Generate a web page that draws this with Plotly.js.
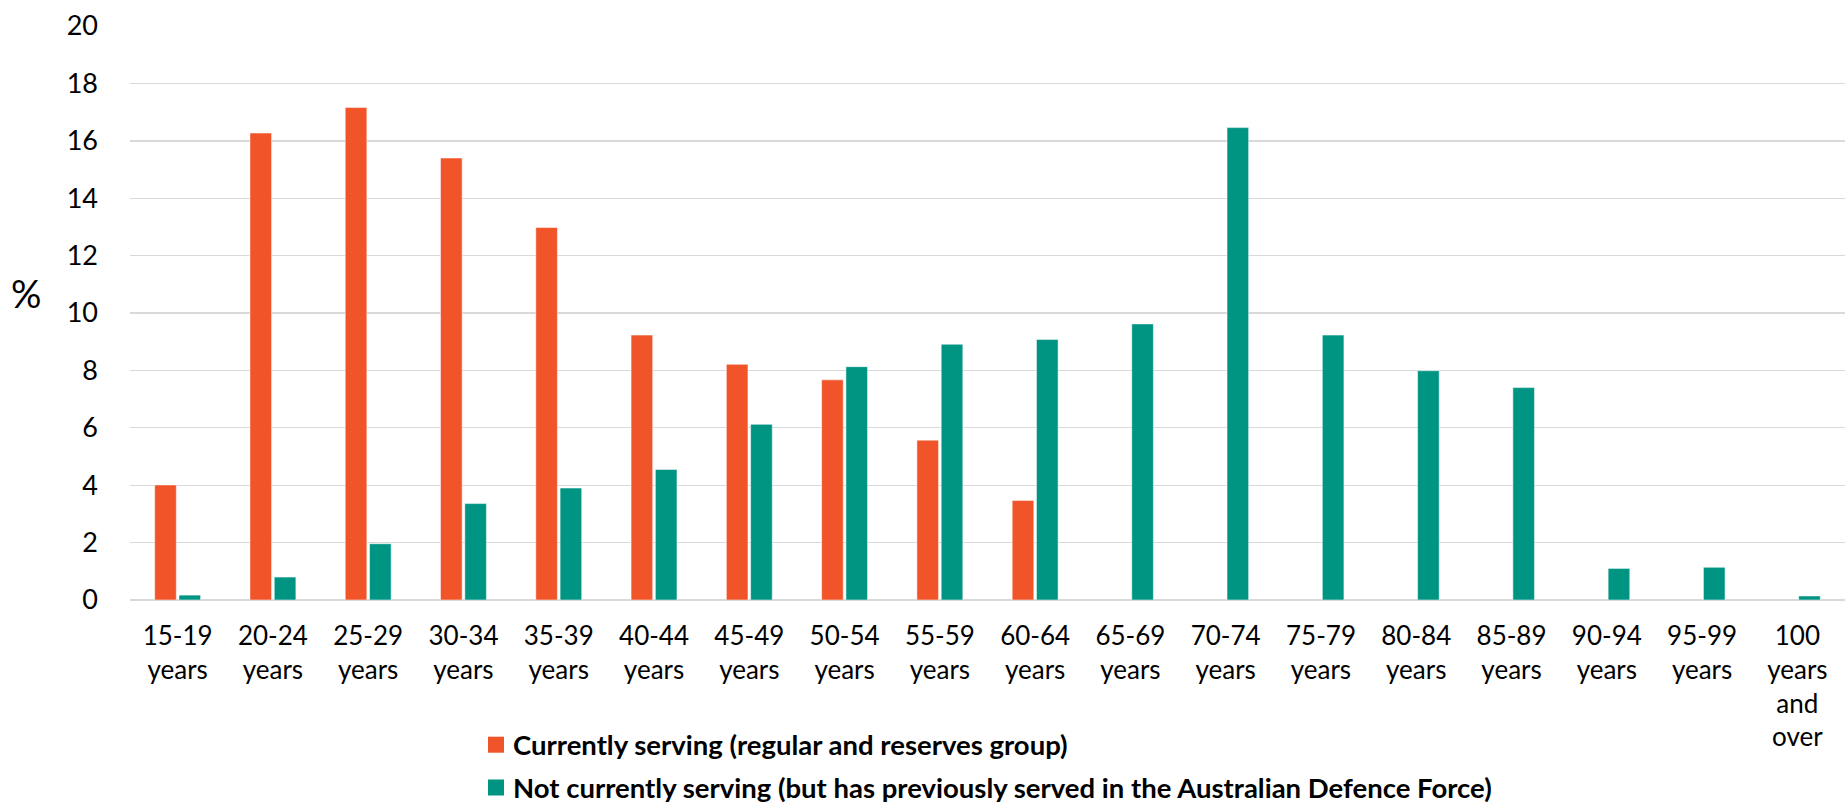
<!DOCTYPE html>
<html>
<head>
<meta charset="utf-8">
<script src="https://cdn.plot.ly/plotly-3.0.1.min.js"></script>
<style>
html,body{margin:0;padding:0;background:#fff;}
#chart{width:1845px;height:806px;}
</style>
</head>
<body>
<div id="chart"></div>
<script>
const categories = ["15-19<br>years","20-24<br>years","25-29<br>years","30-34<br>years","35-39<br>years","40-44<br>years","45-49<br>years","50-54<br>years","55-59<br>years","60-64<br>years","65-69<br>years","70-74<br>years","75-79<br>years","80-84<br>years","85-89<br>years","90-94<br>years","95-99<br>years","100<br>years<br>and<br>over"];
const currentlyServing = [4.01, 16.27, 17.16, 15.40, 12.98, 9.23, 8.21, 7.67, 5.57, 3.47, null, null, null, null, null, null, null, null];
const notCurrentlyServing = [0.17, 0.80, 1.96, 3.36, 3.90, 4.55, 6.12, 8.13, 8.91, 9.08, 9.62, 16.46, 9.23, 7.99, 7.40, 1.10, 1.14, 0.14];
const seriesNames = ["Currently serving (regular and reserves group)", "Not currently serving (but has previously served in the Australian Defence Force)"];
const seriesColors = ['#F05428', '#009582'];
const yTicks = [0,2,4,6,8,10,12,14,16,18,20];

const traces = [
  {type:'bar', x:categories, y:currentlyServing, name:seriesNames[0],
   marker:{color:seriesColors[0], line:{color:'rgba(255,255,255,0.5)', width:1}}, hoverinfo:'y'},
  {type:'bar', x:categories, y:notCurrentlyServing, name:seriesNames[1],
   marker:{color:seriesColors[1], line:{color:'rgba(255,255,255,0.5)', width:1}}, hoverinfo:'y'}
];

// Plot area geometry (pixels) used to place the legend in paper coordinates
const W = 1845, H = 806, mL = 130, mR = 0, mT = 26, mB = 206;
const pw = W - mL - mR, ph = H - mT - mB;
const px2x = p => (p - mL) / pw;
const py2y = p => (H - mB - p) / ph;

const legendRowsY = [744.7, 787.5];
const shapes = [];
const annotations = [{text:'%', xref:'paper', yref:'paper', x:-0.0605, y:0.535, xanchor:'center', yanchor:'middle', showarrow:false, font:{size:38, color:'#000'}}];
seriesNames.forEach((name, i) => {
  const cy = legendRowsY[i];
  shapes.push({type:'rect', xref:'paper', yref:'paper', x0:px2x(488), x1:px2x(504), y0:py2y(cy+8), y1:py2y(cy-8), fillcolor:seriesColors[i], line:{width:0}});
  annotations.push({text:'<b>'+name+'</b>', xref:'paper', yref:'paper', x:px2x(511), y:py2y(cy), xanchor:'left', yanchor:'middle', showarrow:false, font:{size:27.5, color:'#000', family:'Lato, sans-serif'}});
});

const layout = {
  width:W, height:H,
  margin:{l:mL, r:mR, t:mT, b:mB},
  paper_bgcolor:'#fff', plot_bgcolor:'#fff',
  font:{family:'Lato, "Open Sans", sans-serif', color:'#000'},
  barmode:'group', bargap:0.49, bargroupgap:0.11,
  xaxis:{type:'category', tickfont:{size:26, color:'#000'}, tickangle:0, showgrid:false, showline:false, zeroline:false, ticks:'', ticklabelstandoff:18, automargin:false},
  yaxis:{range:[0,20], tickvals:yTicks, tickfont:{size:27, color:'#000'}, gridcolor:'#d9d9d9', gridwidth:1.4, zeroline:true, zerolinecolor:'#d9d9d9', zerolinewidth:1.4, showline:false, ticks:'', ticklabelstandoff:31, automargin:false},
  showlegend:false,
  shapes:shapes,
  annotations:annotations
};

Plotly.newPlot('chart', traces, layout, {displayModeBar:false, staticPlot:true});
</script>
</body>
</html>
